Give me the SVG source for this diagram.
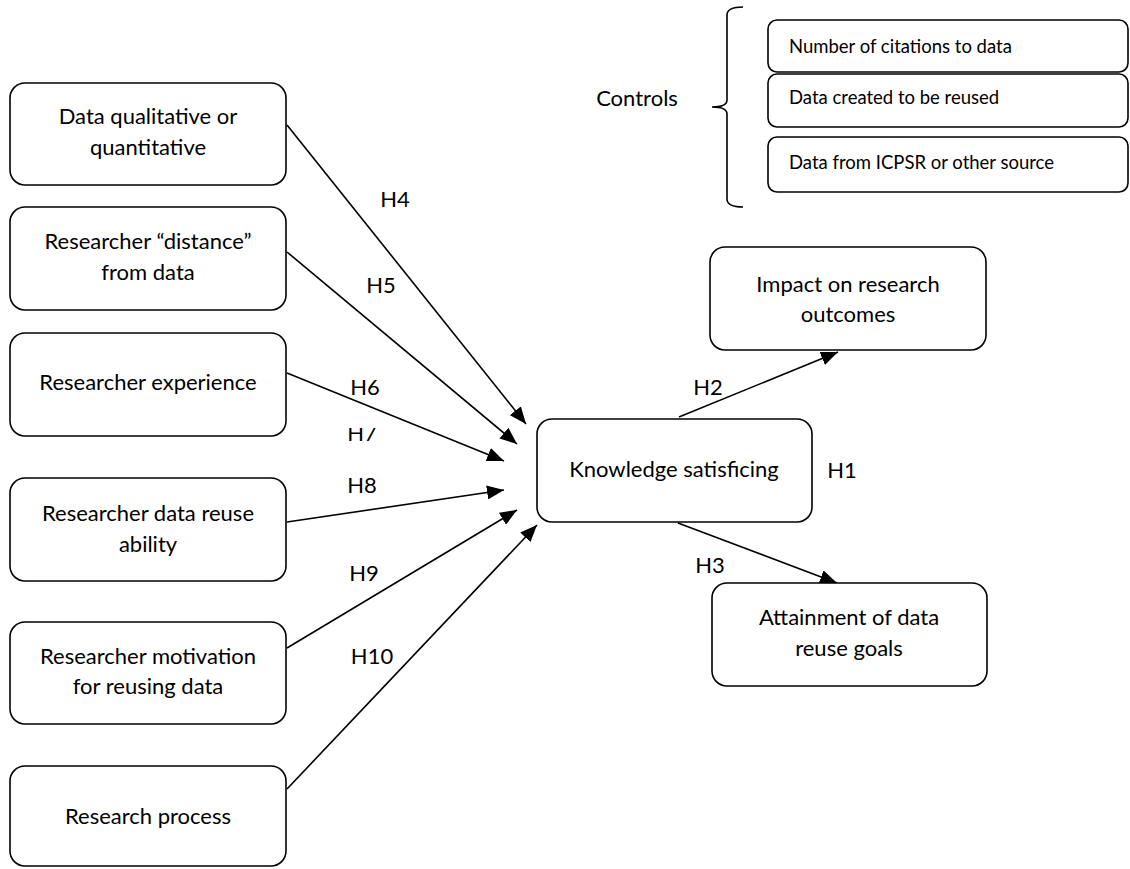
<svg xmlns="http://www.w3.org/2000/svg" width="1130" height="869" viewBox="0 0 1130 869">
<style>
.box{fill:#fff;stroke:#000;stroke-width:1.6}
.cbox{fill:#fff;stroke:#000;stroke-width:1.6}
.t{font-family:Lato,"Open Sans",sans-serif;font-size:22px;fill:#000;text-anchor:middle}
.ct{font-family:Lato,"Open Sans",sans-serif;font-size:18.5px;fill:#000}
.lbl{font-family:Lato,"Open Sans",sans-serif;font-size:22px;fill:#000;text-anchor:middle}
.edge{stroke:#000;stroke-width:1.6;fill:none;marker-end:url(#arr)}
</style>
<defs>
<marker id="arr" markerUnits="userSpaceOnUse" markerWidth="18" markerHeight="14" refX="17" refY="7" orient="auto">
<path d="M0,0 L17,7 L0,14 z" fill="#000"/>
</marker>
<clipPath id="h7clip"><rect x="330" y="428" width="70" height="30"/></clipPath>
</defs>
<rect width="1130" height="869" fill="#fff"/>

<g id="connectors">
<line class="edge" x1="287" y1="125" x2="526" y2="424"/>
<line class="edge" x1="287" y1="252" x2="517" y2="444"/>
<line class="edge" x1="287" y1="373" x2="504" y2="461"/>
<line class="edge" x1="287" y1="522" x2="504" y2="490"/>
<line class="edge" x1="287" y1="648" x2="517" y2="510"/>
<line class="edge" x1="287" y1="789" x2="537" y2="525"/>
<line class="edge" x1="679" y1="417" x2="838" y2="352"/>
<line class="edge" x1="678" y1="523" x2="837" y2="583"/>
<text class="lbl" x="395" y="207">H4</text>
<text class="lbl" x="381" y="293">H5</text>
<text class="lbl" x="365" y="395">H6</text>
<text class="lbl" x="362" y="441" clip-path="url(#h7clip)">H7</text>
<text class="lbl" x="362" y="493">H8</text>
<text class="lbl" x="364" y="581">H9</text>
<text class="lbl" x="372" y="664">H10</text>
<text class="lbl" x="708" y="395">H2</text>
<text class="lbl" x="710" y="573">H3</text>
<text class="lbl" x="842" y="478">H1</text>
</g>

<g id="n-qual">
<rect class="box" x="10" y="83" width="276" height="102" rx="15"/>
<text class="t" x="148" y="124">Data qualitative or</text>
<text class="t" x="148" y="155">quantitative</text>
</g>
<g id="n-distance">
<rect class="box" x="10" y="207" width="276" height="103" rx="15"/>
<text class="t" x="148" y="249">Researcher “distance”</text>
<text class="t" x="148" y="280">from data</text>
</g>
<g id="n-experience">
<rect class="box" x="10" y="333" width="276" height="103" rx="15"/>
<text class="t" x="148" y="390">Researcher experience</text>
</g>
<g id="n-ability">
<rect class="box" x="10" y="478" width="276" height="103" rx="15"/>
<text class="t" x="148" y="521">Researcher data reuse</text>
<text class="t" x="148" y="552">ability</text>
</g>
<g id="n-motivation">
<rect class="box" x="10" y="622" width="276" height="102" rx="15"/>
<text class="t" x="148" y="664">Researcher motivation</text>
<text class="t" x="148" y="694">for reusing data</text>
</g>
<g id="n-process">
<rect class="box" x="10" y="766" width="276" height="100" rx="15"/>
<text class="t" x="148" y="824">Research process</text>
</g>
<g id="n-knowledge">
<rect class="box" x="537" y="419" width="275" height="103" rx="15"/>
<text class="t" x="674" y="477">Knowledge satisficing</text>
</g>
<g id="n-impact">
<rect class="box" x="710" y="247" width="276" height="103" rx="15"/>
<text class="t" x="848" y="292">Impact on research</text>
<text class="t" x="848" y="322">outcomes</text>
</g>
<g id="n-attainment">
<rect class="box" x="712" y="583" width="275" height="103" rx="15"/>
<text class="t" x="849" y="625">Attainment of data</text>
<text class="t" x="849" y="656">reuse goals</text>
</g>

<g id="controls">
<text class="t" x="637" y="106">Controls</text>
<path d="M743,7 Q727,7 727,15 V100 Q727,107 712,107 Q727,107 727,114 V199 Q727,207 743,207" fill="none" stroke="#000" stroke-width="1.6"/>
</g>
<g id="c-citations">
<rect class="cbox" x="768" y="20" width="360" height="52" rx="9"/>
<text class="ct" x="789" y="53">Number of citations to data</text>
</g>
<g id="c-created">
<rect class="cbox" x="768" y="74" width="360" height="53" rx="9"/>
<text class="ct" x="789" y="104">Data created to be reused</text>
</g>
<g id="c-source">
<rect class="cbox" x="768" y="137" width="360" height="55" rx="9"/>
<text class="ct" x="789" y="169">Data from ICPSR or other source</text>
</g>
</svg>
